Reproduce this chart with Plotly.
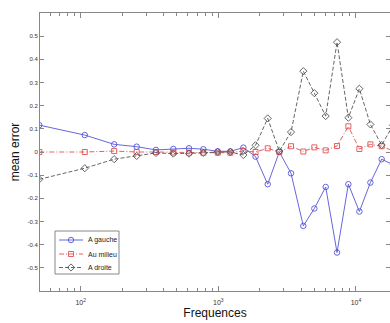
import plotly.graph_objects as go

freqs = [50, 107, 175, 255, 352, 471, 612, 778, 990, 1223, 1520, 1864, 2285,
         2774, 3375, 4146, 4985, 6030, 7290, 8810, 10590, 12740, 15380, 18600]
a_gauche = [0.116, 0.073, 0.033, 0.023, 0.009, 0.013, 0.016, 0.012, 0.003, 0.003,
            0.019, -0.020, -0.139, 0.000, -0.092, -0.319, -0.244, -0.151, -0.434,
            -0.139, -0.257, -0.132, -0.031, -0.055]
au_milieu = [0.000, 0.000, 0.004, 0.000, 0.000, -0.002, -0.003, -0.003, -0.003,
             -0.003, 0.004, 0.000, 0.016, 0.000, 0.025, 0.002, 0.020, 0.007, 0.026,
             0.111, 0.013, 0.033, 0.025, 0.005]
a_droite = [-0.118, -0.070, -0.031, -0.017, -0.004, -0.007, -0.007, -0.004, 0.000,
            0.000, -0.013, 0.029, 0.145, 0.004, 0.086, 0.349, 0.254, 0.155, 0.474,
            0.148, 0.273, 0.119, 0.030, 0.115]

series_names = ["A gauche", "Au milieu", "A droite"]
series_values = [a_gauche, au_milieu, a_droite]
series_colors = ["#5555d8", "#e05050", "#555555"]
series_dash = ["solid", "5px,2px,1px,2px", "4px,2px"]
series_symbols = ["circle-open", "square-open", "diamond-open"]
series_sizes = [5.5, 5, 5.5]

major_ticks = [100, 1000, 10000]
major_text = ["10<sup>2</sup>", "10<sup>3</sup>", "10<sup>4</sup>"]
minor_ticks = [m * d for d in (10, 100, 1000, 10000) for m in range(2, 10)]
y_ticks = [-0.5, -0.4, -0.3, -0.2, -0.1, 0, 0.1, 0.2, 0.3, 0.4, 0.5]
y_text = ["-0.5", "-0.4", "-0.3", "-0.2", "-0.1", "0", "0.1", "0.2", "0.3", "0.4", "0.5"]

W, H = 390, 323
ML, MR, MT, MB = 40, 0, 13, 32

fig = go.Figure()
for name, vals, col, dash, sym, sz in zip(series_names, series_values, series_colors,
                                         series_dash, series_symbols, series_sizes):
    fig.add_trace(go.Scatter(x=freqs, y=vals, name=name, mode="lines+markers",
                             showlegend=False,
                             line=dict(color=col, width=0.9, dash=dash),
                             marker=dict(symbol=sym, size=sz, color=col, line=dict(width=0.9))))

# Hand-built legend on an overlay axis measured in pixels of the plot area
leg_box = dict(x0=55, x1=119, y0=231, y1=274)
leg_rows = [240, 254, 267.5]
for name, col, dash, sym, sz, ry in zip(series_names, series_colors, series_dash,
                                        series_symbols, series_sizes, leg_rows):
    fig.add_trace(go.Scatter(x=[59, 83], y=[ry, ry], mode="lines", xaxis="x2", yaxis="y2",
                             showlegend=False, hoverinfo="skip",
                             line=dict(color=col, width=0.9, dash=dash)))
    fig.add_trace(go.Scatter(x=[71], y=[ry], mode="markers", xaxis="x2", yaxis="y2",
                             showlegend=False, hoverinfo="skip",
                             marker=dict(symbol=sym, size=sz, color=col, line=dict(width=0.9))))
    fig.add_annotation(x=86, y=ry, xref="x2", yref="y2", text=name, showarrow=False,
                       xanchor="left", yanchor="middle",
                       font=dict(size=7, color="#222"))
fig.add_shape(type="rect", xref="x2", yref="y2", layer="below",
              x0=leg_box["x0"], x1=leg_box["x1"], y0=leg_box["y0"], y1=leg_box["y1"],
              line=dict(color="#888", width=1), fillcolor="white")

fig.update_layout(
    width=W, height=H,
    margin=dict(l=ML, r=MR, t=MT, b=MB),
    paper_bgcolor="white", plot_bgcolor="white",
    font=dict(family="Liberation Sans, Arial", color="#222"),
    showlegend=False,
    xaxis2=dict(overlaying="x", range=[ML, W - MR], visible=False, fixedrange=True),
    yaxis2=dict(overlaying="y", range=[H - MB, MT], visible=False, fixedrange=True),
)
fig.update_layout(xaxis=dict(type="log", range=[1.704, 4.2476],
                 tickvals=major_ticks, ticktext=major_text,
                 ticks="inside", ticklen=5, tickcolor="#888", tickwidth=1,
                 showline=True, linecolor="#888", linewidth=1, mirror="ticks",
                 showgrid=False, zeroline=False, ticklabelstandoff=5,
                 tickfont=dict(size=7, color="#333"),
                 minor=dict(tickvals=minor_ticks, ticks="inside", ticklen=3, tickcolor="#888", showgrid=False),
                 title=dict(text="Frequences", font=dict(size=12, color="#111"), standoff=3)))
fig.update_layout(yaxis=dict(range=[-0.6, 0.6], tickvals=y_ticks, ticktext=y_text,
                 ticks="inside", ticklen=4, tickcolor="#888", tickwidth=1,
                 showline=True, linecolor="#888", linewidth=1, mirror="ticks",
                 showgrid=False, zeroline=False,
                 tickfont=dict(size=6, color="#333"),
                 title=dict(text="mean error", font=dict(size=12, color="#111"), standoff=5)))

fig.write_html("out.html")
